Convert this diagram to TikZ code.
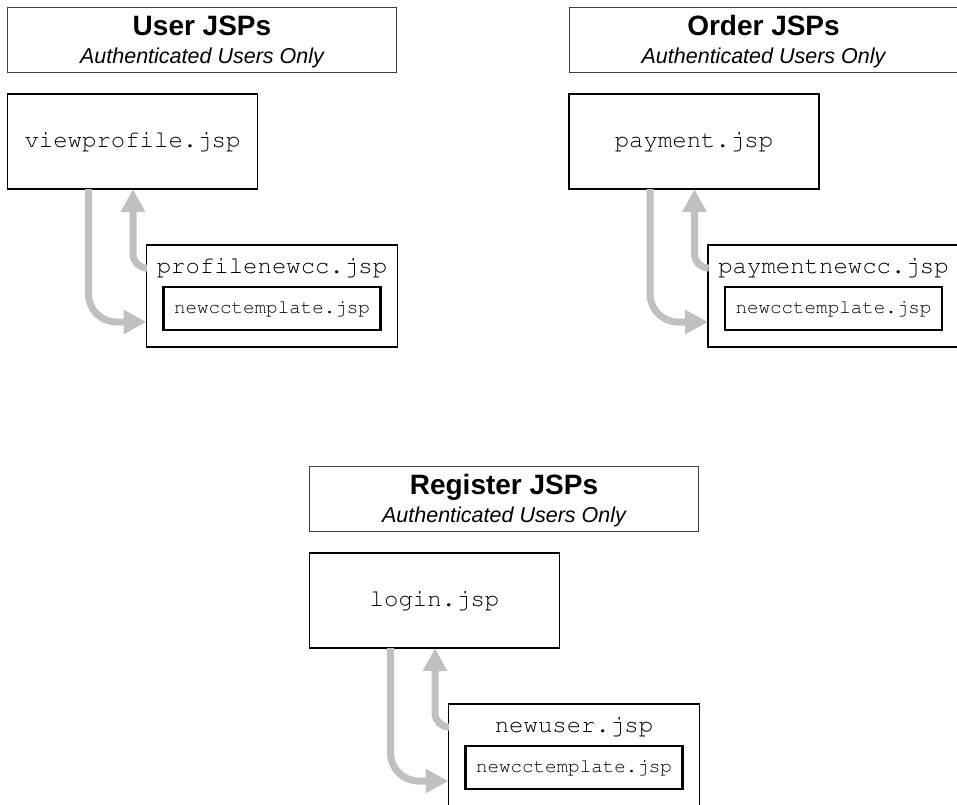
\documentclass[tikz,border=0pt]{standalone}
\usepackage[T1,TU]{fontenc}
\usepackage{fontspec}
\setmainfont{Liberation Sans}
\usetikzlibrary{arrows.meta,calc}
% Courier for the file names
\newcommand\courierfont{\fontencoding{T1}\fontfamily{pcr}\selectfont}
\definecolor{flowgray}{RGB}{192,192,192}

\begin{document}
\begin{tikzpicture}[x=1pt,y=-1pt,
  titlebox/.style={draw=black!75, line width=0.9pt, inner sep=0pt, outer sep=0pt,
    anchor=north west, minimum width=389pt, minimum height=64.5pt},
  titletext/.style={anchor=base, inner sep=0pt, font=\bfseries\fontsize{28}{28}\selectfont},
  subtext/.style={anchor=base, inner sep=0pt, font=\itshape\fontsize{21.5}{21.5}\selectfont},
  pagebox/.style={draw=black, line width=1.1pt, inner sep=0pt, outer sep=0pt,
    anchor=north west, minimum width=250pt, minimum height=95pt,
    font=\courierfont\fontsize{24}{24}\selectfont},
  subbox/.style={draw=black, line width=1.1pt, inner sep=0pt, outer sep=0pt,
    anchor=north west, minimum width=251pt, minimum height=102pt},
  sublabel/.style={anchor=base, inner sep=0pt, font=\courierfont\fontsize{24}{24}\selectfont},
  tplbox/.style={draw=black, line width=2.6pt, inner sep=0pt, outer sep=0pt,
    minimum width=217pt, minimum height=43pt, font=\courierfont\fontsize{19.2}{19.2}\selectfont},
  flow/.style={draw=flowgray, line width=7pt, -{Triangle[length=23pt,width=23pt]}},
]
\useasboundingbox (0,0) rectangle (957,804);

% ---------- User JSPs ----------
\node[titlebox] (usert) at (7.5,7.5) {};
\node[titletext] (usertitle) at ($(usert.north)+(0,27.5)$) {User JSPs};
\node[subtext] (usersub) at ($(usert.north)+(0,55.5)$) {Authenticated Users Only};
\node[pagebox] (viewprofile) at (7.5,94) {viewprofile.jsp};
\node[subbox] (profilenewcc) at (146.5,245) {};
\node[sublabel] (profilelabel) at ($(profilenewcc.north)+(0,28)$) {profilenewcc.jsp};
\node[tplbox] (usertpl) at ($(profilenewcc.north)+(0,63.5)$) {newcctemplate.jsp};
\coordinate (ud1) at ($(viewprofile.south west)+(81,0)$);
\coordinate (ud2) at ($(profilenewcc.north west)+(0,77)$);
\coordinate (uu1) at ($(profilenewcc.north west)+(0,23)$);
\coordinate (uu2) at ($(viewprofile.south west)+(125.5,0)$);
\draw[flow, rounded corners=28pt] (ud1) |- (ud2);
\draw[flow, rounded corners=14pt] (uu1) -| (uu2);

% ---------- Order JSPs ----------
\node[titlebox] (ordert) at (569,7.5) {};
\node[titletext] (ordertitle) at ($(ordert.north)+(0,27.5)$) {Order JSPs};
\node[subtext] (ordersub) at ($(ordert.north)+(0,55.5)$) {Authenticated Users Only};
\node[pagebox] (payment) at (569,94) {payment.jsp};
\node[subbox] (paymentnewcc) at (708,245) {};
\node[sublabel] (paymentlabel) at ($(paymentnewcc.north)+(0,28)$) {paymentnewcc.jsp};
\node[tplbox] (ordertpl) at ($(paymentnewcc.north)+(0,63.5)$) {newcctemplate.jsp};
\coordinate (od1) at ($(payment.south west)+(81,0)$);
\coordinate (od2) at ($(paymentnewcc.north west)+(0,77)$);
\coordinate (ou1) at ($(paymentnewcc.north west)+(0,23)$);
\coordinate (ou2) at ($(payment.south west)+(125.5,0)$);
\draw[flow, rounded corners=28pt] (od1) |- (od2);
\draw[flow, rounded corners=14pt] (ou1) -| (ou2);

% ---------- Register JSPs ----------
\node[titlebox] (regt) at (309.5,466.5) {};
\node[titletext] (regtitle) at ($(regt.north)+(0,27.5)$) {Register JSPs};
\node[subtext] (regsub) at ($(regt.north)+(0,55.5)$) {Authenticated Users Only};
\node[pagebox] (login) at (309.5,553) {login.jsp};
\node[subbox] (newuser) at (448.5,704) {};
\node[sublabel] (newuserlabel) at ($(newuser.north)+(0,28)$) {newuser.jsp};
\node[tplbox] (regtpl) at ($(newuser.north)+(0,63.5)$) {newcctemplate.jsp};
\coordinate (rd1) at ($(login.south west)+(81,0)$);
\coordinate (rd2) at ($(newuser.north west)+(0,77)$);
\coordinate (ru1) at ($(newuser.north west)+(0,23)$);
\coordinate (ru2) at ($(login.south west)+(125.5,0)$);
\draw[flow, rounded corners=28pt] (rd1) |- (rd2);
\draw[flow, rounded corners=14pt] (ru1) -| (ru2);
\end{tikzpicture}
\end{document}
